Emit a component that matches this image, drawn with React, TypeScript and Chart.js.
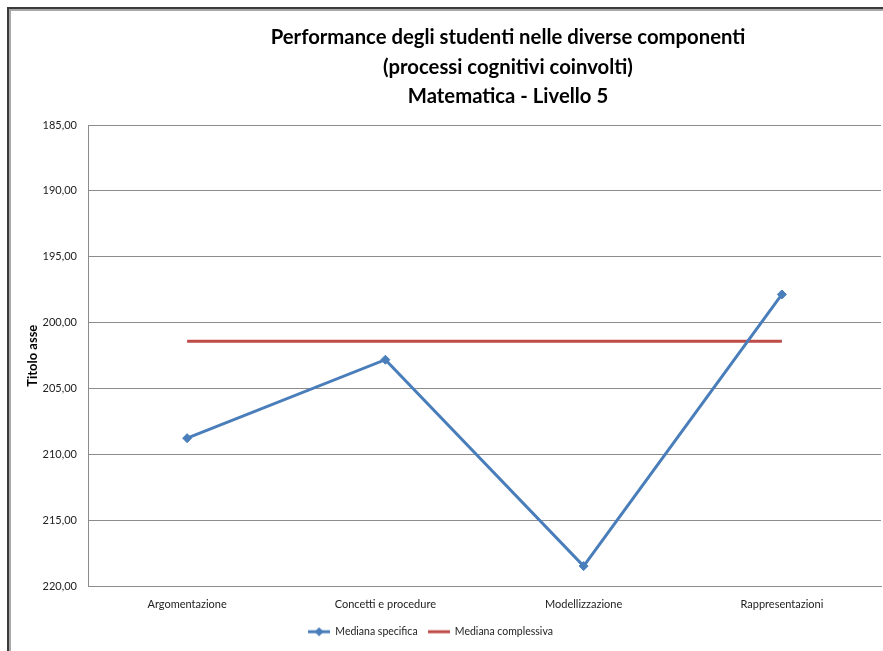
import React, { useEffect, useRef } from "react";
import { Chart, registerables } from "chart.js";

Chart.register(...registerables);

const categories = ["Argomentazione", "Concetti e procedure", "Modellizzazione", "Rappresentazioni"];
const medianaSpecifica = [208.75, 202.8, 218.45, 197.85];
const medianaComplessiva = [201.4, 201.4, 201.4, 201.4];
const seriesNames = ["Mediana specifica", "Mediana complessiva"];
const titleLines = [
  "Performance degli studenti nelle diverse componenti",
  "(processi cognitivi coinvolti)",
  "Matematica - Livello 5",
];
const yAxisTitle = "Titolo asse";
const yMin = 185;
const yMax = 220;
const yStep = 5;

const BLUE = "#4A7EBB";
const RED = "#BE4B48";
const GRID = "#8c8c8c";
const FONT = "Lato, 'Open Sans', sans-serif";

function legendIcon(color: string, marker: boolean): HTMLCanvasElement {
  const c = document.createElement("canvas");
  c.width = 22;
  c.height = 10;
  const ctx = c.getContext("2d")!;
  ctx.strokeStyle = color;
  ctx.lineWidth = 3;
  ctx.beginPath();
  ctx.moveTo(0, 5);
  ctx.lineTo(22, 5);
  ctx.stroke();
  if (marker) {
    ctx.fillStyle = color;
    ctx.beginPath();
    ctx.moveTo(11, 0.5);
    ctx.lineTo(15.5, 5);
    ctx.lineTo(11, 9.5);
    ctx.lineTo(6.5, 5);
    ctx.closePath();
    ctx.fill();
  }
  return c;
}

const legendShift = {
  id: "legendShift",
  afterLayout(chart: any) {
    const lg = chart.legend;
    if (!lg) return;
    lg.left -= 20;
    lg.right -= 20;
  },
};

export default function App() {
  const ref = useRef<HTMLCanvasElement | null>(null);

  useEffect(() => {
    if (!ref.current) return;
    const icons = [legendIcon(BLUE, true), legendIcon(RED, false)];
    const chart = new Chart(ref.current, {
      type: "line",
      data: {
        labels: categories,
        datasets: [
          {
            label: seriesNames[0],
            data: medianaSpecifica,
            borderColor: BLUE,
            backgroundColor: BLUE,
            borderWidth: 3,
            pointStyle: "rectRot",
            pointRadius: 4.5,
            pointBorderWidth: 1,
            tension: 0,
          },
          {
            label: seriesNames[1],
            data: medianaComplessiva,
            borderColor: RED,
            backgroundColor: RED,
            borderWidth: 3,
            pointRadius: 0,
            tension: 0,
          },
        ],
      },
      plugins: [legendShift],
      options: {
        responsive: false,
        animation: false,
        layout: { autoPadding: false, padding: { top: 125, left: 20, right: 2, bottom: 4 } },
        plugins: {
          title: { display: false },
          tooltip: { enabled: false },
          legend: {
            position: "bottom",
            labels: {
              usePointStyle: true,
              pointStyleWidth: 22,
              padding: 10,
              color: "#222",
              font: { family: FONT, size: 10.5 },
              generateLabels: (ch: any) =>
                ch.data.datasets.map((ds: any, i: number) => ({
                  text: ds.label,
                  pointStyle: icons[i],
                  fillStyle: ds.borderColor,
                  strokeStyle: ds.borderColor,
                  lineWidth: 0,
                  hidden: false,
                  datasetIndex: i,
                  fontColor: "#222",
                })),
            },
          },
        },
        scales: {
          x: {
            offset: true,
            grid: { display: false, drawTicks: false },
            border: { display: true, color: GRID, width: 1 },
            ticks: { color: "#222", padding: 11, font: { family: FONT, size: 11 }, maxRotation: 0 },
            afterFit: (s: any) => {
              s.height = 30;
              s.paddingLeft = 0;
              s.paddingRight = 0;
            },
          },
          y: {
            reverse: true,
            min: yMin,
            max: yMax,
            grid: { color: GRID, lineWidth: 1, drawTicks: false },
            border: { display: true, color: GRID, width: 1 },
            ticks: {
              stepSize: yStep,
              padding: 11,
              color: "#222",
              font: { family: FONT, size: 11 },
              callback: (v: any) => Number(v).toFixed(2).replace(".", ","),
            },
            title: {
              display: true,
              text: yAxisTitle,
              color: "#000",
              font: { family: FONT, size: 13, weight: "bold" },
              padding: { top: 5, bottom: 0 },
            },
            afterFit: (s: any) => {
              s.width = 68;
            },
          },
        },
      },
    });
    return () => chart.destroy();
  }, []);

  return (
    <div style={{ position: "fixed", left: 0, top: 0, width: 883, height: 651, background: "#fff", overflow: "hidden" }}>
      <div
        style={{
          position: "absolute",
          left: 7,
          top: 7,
          width: 900,
          height: 700,
          borderTop: "2px solid #3a3a3a",
          borderLeft: "2px solid #3a3a3a",
        }}
      />
      <div
        style={{
          position: "absolute",
          left: 9,
          top: 9,
          width: 900,
          height: 700,
          borderTop: "2px solid #a8a8a8",
          borderLeft: "2px solid #a8a8a8",
        }}
      />
      <canvas ref={ref} width={883} height={651} style={{ position: "absolute", left: 0, top: 0 }} />
      <div
        style={{
          position: "absolute",
          left: 508,
          top: 22,
          transform: "translateX(-50%)",
          whiteSpace: "nowrap",
          textAlign: "center",
          fontFamily: FONT,
          fontWeight: "bold",
          fontSize: 20.3,
          lineHeight: "29.5px",
          color: "#000",
        }}
      >
        {titleLines.map((t, i) => (
          <div key={i}>{t}</div>
        ))}
      </div>
    </div>
  );
}
